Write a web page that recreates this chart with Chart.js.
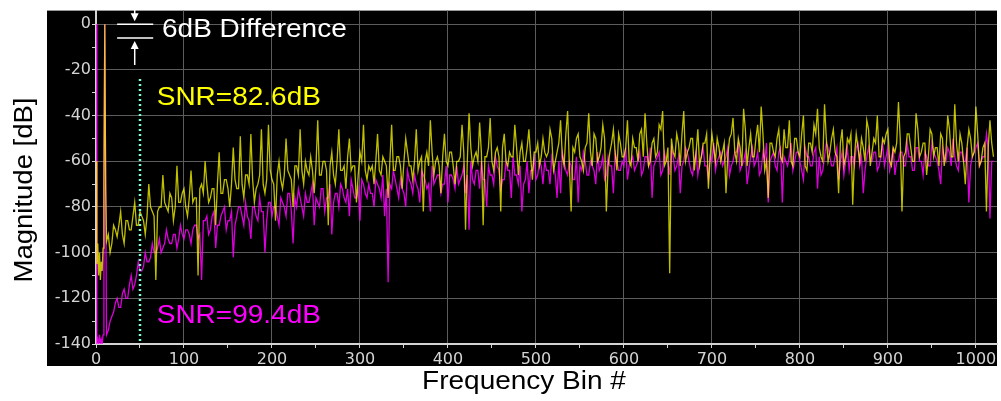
<!DOCTYPE html>
<html>
<head>
<meta charset="utf-8">
<script src="https://cdn.jsdelivr.net/npm/chart.js@4.4.1/dist/chart.umd.min.js"></script>
<style>
  html, body { margin: 0; padding: 0; background: #fff; }
  #wrap { width: 1001px; height: 401px; }
</style>
</head>
<body>
<div id="wrap"><canvas id="grafica" width="1001" height="401"></canvas></div>
<script>
// bins 0..11 leidos uno a uno (DC + fundamental en el bin 10)
const binsInicio = [0, 1, 2, 3, 4, 5, 6, 7, 8, 9, 10, 11];
const amarilloInicio = [-60, -105, -96, -110, -100, -112, -104, -108, -98, -70, 0, -72];
const magentaInicio = [0, -140, -138, -140, -136, -140, -138, -140, -136, -70, 0, -72];

// desde el bin 12: "picos" en los bins 12,16,20... y "nucleo" en los bins 14,18,22...
const primerBin = 12;
const pasoBin = 4;

const amarilloPicos = [
  -95, -100, -88, -93, -82, -96, -86, -90, -78, -88, -84, -92, -70, -82, -112, -80, -66, -80, -74, -86, -62, -78, -72, -84, -64,
  -76, -110, -70, -60, -78, -72, -88, -56, -74, -68, -80, -54, -72, -49, -76, -66, -48, -78, -70, -46, -74, -44, -68, -86, -60,
  -72, -50, -66, -80, -62, -46, -70, -64, -58, -74, -42, -66, -60, -88, -56, -70, -46, -64, -72, -50, -62, -78, -56, -44, -68,
  -64, -70, -48, -66, -60, -76, -44, -64, -58, -72, -50, -62, -68, -46, -60, -82, -56, -42, -66, -58, -74, -48, -62, -56, -70,
  -60, -44, -90, -39, -62, -56, -43, -88, -58, -41, -64, -54, -82, -48, -62, -58, -44, -66, -52, -60, -46, -68, -56, -62, -50,
  -58, -46, -64, -56, -42, -62, -38, -82, -56, -48, -60, -54, -39, -62, -50, -58, -44, -82, -56, -46, -64, -52, -58, -42, -62,
  -54, -60, -46, -39, -62, -52, -58, -44, -38, -60, -109, -56, -48, -62, -38, -56, -50, -64, -46, -58, -52, -72, -48, -60, -54,
  -56, -74, -50, -41, -60, -54, -37, -62, -48, -58, -44, -36, -64, -76, -52, -58, -46, -60, -54, -42, -62, -50, -58, -40, -64,
  -52, -44, -37, -58, -35, -60, -50, -56, -74, -46, -58, -52, -79, -48, -60, -54, -42, -62, -50, -40, -58, -52, -46, -62, -56,
  -34, -82, -56, -48, -60, -39, -58, -52, -66, -46, -58, -54, -48, -62, -40, -58, -35, -60, -52, -70, -46, -58, -36, -62, -54,
  -82, -42, -58
];
const amarilloNucleo = [
  -92, -96, -90, -88, -92, -86, -90, -84, -88, -82, -86, -84, -80, -84, -82, -80, -78, -82, -76, -80, -78, -74, -80, -76, -78,
  -76, -72, -74, -70, -76, -72, -70, -74, -68, -72, -70, -68, -72, -70, -66, -70, -68, -72, -66, -70, -68, -64, -70, -66, -68,
  -66, -64, -68, -62, -66, -64, -60, -66, -64, -62, -66, -60, -64, -62, -66, -60, -64, -62, -58, -64, -62, -66, -60, -64, -62,
  -62, -60, -64, -58, -62, -60, -64, -58, -62, -60, -56, -62, -60, -64, -58, -60, -62, -56, -60, -62, -58, -60, -56, -62, -60,
  -58, -56, -60, -54, -58, -60, -56, -58, -54, -60, -56, -58, -54, -60, -56, -58, -54, -56, -60, -54, -58, -56, -52, -58, -56,
  -56, -50, -60, -52, -58, -48, -62, -54, -50, -58, -64, -52, -56, -48, -60, -54, -50, -62, -52, -56, -48, -58, -54, -60, -50,
  -54, -48, -58, -52, -60, -50, -56, -46, -62, -54, -50, -58, -52, -48, -60, -54, -50, -56, -62, -52, -48, -58, -54, -50, -60,
  -52, -58, -48, -56, -50, -62, -46, -54, -58, -50, -56, -48, -60, -52, -56, -50, -58, -46, -54, -60, -50, -56, -48, -62, -52,
  -56, -48, -54, -60, -50, -56, -46, -58, -52, -62, -50, -48, -58, -54, -50, -60, -46, -56, -52, -58, -50, -48, -60, -54, -52,
  -50, -58, -48, -54, -60, -46, -56, -52, -58, -48, -54, -62, -50, -56, -46, -58, -52, -48, -60, -54, -50, -56, -48, -60, -52,
  -54, -52
];

const magentaPicos = [
  -136, -130, -126, -120, -124, -116, -120, -110, -114, -104, -108, -100, -104, -96, -100, -94, -98, -90, -96, -92, -98, -88, -94, -90, -96,
  -88, -94, -112, -86, -92, -84, -98, -88, -82, -90, -86, -102, -84, -80, -88, -84, -94, -80, -86, -82, -100, -78, -84, -80, -88,
  -78, -84, -74, -96, -80, -76, -84, -78, -74, -88, -78, -72, -82, -76, -92, -74, -80, -72, -78, -84, -72, -76, -86, -70, -76,
  -74, -80, -70, -76, -84, -113, -72, -68, -76, -72, -80, -68, -74, -70, -78, -66, -72, -82, -70, -66, -74, -70, -78, -66, -72,
  -70, -66, -74, -90, -68, -64, -72, -68, -80, -66, -70, -62, -72, -68, -64, -76, -66, -70, -82, -68, -74, -64, -68, -60, -70,
  -64, -70, -62, -76, -74, -60, -66, -62, -68, -78, -64, -60, -66, -62, -70, -64, -58, -66, -62, -74, -60, -64, -62, -68, -60,
  -64, -60, -66, -58, -62, -76, -60, -56, -64, -60, -66, -58, -62, -74, -60, -56, -64, -60, -66, -58, -62, -68, -60, -64, -58,
  -62, -58, -66, -60, -56, -64, -60, -70, -58, -62, -56, -64, -60, -78, -58, -62, -56, -78, -60, -58, -64, -56, -60, -68, -58,
  -62, -56, -72, -66, -58, -54, -62, -58, -68, -56, -60, -64, -58, -54, -62, -74, -58, -60, -56, -64, -58, -62, -54, -60, -66,
  -60, -56, -62, -58, -64, -54, -60, -66, -58, -62, -56, -60, -70, -58, -54, -62, -58, -64, -56, -60, -78, -58, -54, -62, -58,
  -48, -85, -60
];
const magentaNucleo = [
  -134, -128, -122, -124, -118, -120, -114, -116, -110, -108, -106, -104, -102, -100, -98, -100, -96, -94, -96, -92, -94, -92, -90, -92, -90,
  -88, -92, -86, -84, -90, -82, -88, -84, -80, -86, -82, -88, -80, -84, -78, -86, -80, -84, -76, -82, -86, -78, -80, -84, -76,
  -80, -74, -82, -76, -72, -80, -74, -78, -70, -76, -80, -72, -76, -70, -78, -74, -70, -76, -72, -68, -76, -72, -68, -74, -70,
  -74, -68, -72, -66, -72, -70, -64, -72, -68, -74, -64, -70, -66, -72, -64, -68, -70, -62, -68, -66, -70, -62, -66, -68, -62,
  -68, -62, -66, -60, -70, -64, -60, -68, -62, -66, -58, -64, -68, -60, -64, -58, -66, -62, -70, -60, -64, -58, -66, -62, -60,
  -64, -58, -66, -60, -56, -64, -60, -68, -58, -62, -56, -66, -60, -64, -56, -62, -68, -58, -62, -56, -64, -60, -54, -62, -58,
  -62, -56, -64, -58, -54, -62, -58, -66, -56, -60, -54, -64, -58, -62, -54, -60, -66, -56, -60, -54, -62, -58, -52, -60, -56,
  -60, -54, -62, -56, -52, -62, -56, -64, -54, -60, -66, -56, -52, -60, -56, -64, -54, -58, -62, -52, -60, -56, -64, -54, -58,
  -62, -54, -58, -64, -52, -58, -62, -54, -60, -66, -54, -58, -62, -52, -58, -64, -54, -60, -56, -62, -52, -58, -64, -54, -60,
  -56, -62, -52, -58, -64, -54, -60, -56, -62, -52, -58, -64, -54, -60, -56, -50, -62, -56, -60, -54, -62, -56, -52, -60, -58,
  -54, -60
];

// marcador punteado en el bin 50
const marcadorBin = 50;
const marcadorDb = [-24, -140];

// anotacion "6dB Difference"
const difNiveles = [0, -6];
const difBins = [24, 65];
const difFlechaBin = 44;

const etiquetas = [
  { texto: "SNR=82.6dB", bin: 69, db: -32.5, color: "#ffff00" },
  { texto: "SNR=99.4dB", bin: 69, db: -128, color: "#ff00ff" },
  { texto: "6dB Difference", bin: 75, db: -2.6, color: "#ffffff" }
];

const ejeX = { titulo: "Frequency Bin #", min: 0, max: 1024, paso: 50, etiquetaCada: 100 };
const ejeY = { titulo: "Magnitude [dB]", min: -140, max: 6, paso: 10, etiquetaCada: 20 };

const fuente = "'Liberation Sans', Arial, sans-serif";
const estirar = 1.12;

function armarPuntos(inicio, picos, nucleo) {
  const pts = binsInicio.map((b, i) => ({ x: b, y: inicio[i] }));
  picos.forEach((v, i) => {
    pts.push({ x: primerBin + i * pasoBin, y: v });
    if (i < nucleo.length) pts.push({ x: primerBin + i * pasoBin + pasoBin / 2, y: nucleo[i] });
  });
  return pts;
}

function textoEstirado(ctx, texto, x, y, rot) {
  ctx.save();
  ctx.translate(x, y);
  ctx.rotate(rot || 0);
  ctx.scale(estirar, 1);
  ctx.fillText(texto, 0, 0);
  ctx.restore();
}

// fondo negro y textos
const fondoYTextos = {
  id: 'fondoYTextos',
  beforeDraw(chart) {
    const { ctx, chartArea } = chart;
    ctx.save();
    ctx.fillStyle = '#000';
    ctx.fillRect(chartArea.left - 49, chartArea.top, chartArea.right - chartArea.left + 49, chartArea.bottom - chartArea.top + 22);
    ctx.restore();
  },
  afterDraw(chart) {
    const { ctx, scales } = chart;
    const sx = scales.x, sy = scales.y;

    // lineas de 6 dB
    ctx.save();
    ctx.strokeStyle = '#fff';
    ctx.fillStyle = '#fff';
    ctx.lineWidth = 1.5;
    difNiveles.forEach(n => {
      ctx.beginPath();
      ctx.moveTo(sx.getPixelForValue(difBins[0]), sy.getPixelForValue(n));
      ctx.lineTo(sx.getPixelForValue(difBins[1]), sy.getPixelForValue(n));
      ctx.stroke();
    });
    const fx = sx.getPixelForValue(difFlechaBin);
    const y0 = sy.getPixelForValue(difNiveles[0]);
    const y6 = sy.getPixelForValue(difNiveles[1]);
    // flecha de arriba
    ctx.beginPath();
    ctx.moveTo(fx, 0);
    ctx.lineTo(fx, y0 - 8);
    ctx.stroke();
    ctx.beginPath();
    ctx.moveTo(fx - 4, y0 - 11);
    ctx.lineTo(fx + 4, y0 - 11);
    ctx.lineTo(fx, y0 - 3);
    ctx.closePath();
    ctx.fill();
    // flecha de abajo
    ctx.beginPath();
    ctx.moveTo(fx, y6 + 8);
    ctx.lineTo(fx, y6 + 27);
    ctx.stroke();
    ctx.beginPath();
    ctx.moveTo(fx - 4, y6 + 11);
    ctx.lineTo(fx + 4, y6 + 11);
    ctx.lineTo(fx, y6 + 3);
    ctx.closePath();
    ctx.fill();

    ctx.font = '25px ' + fuente;
    ctx.textBaseline = 'middle';
    ctx.textAlign = 'left';
    etiquetas.forEach(e => {
      ctx.fillStyle = e.color;
      textoEstirado(ctx, e.texto, sx.getPixelForValue(e.bin), sy.getPixelForValue(e.db));
    });

    // titulos de los ejes
    ctx.fillStyle = '#000';
    ctx.textAlign = 'center';
    textoEstirado(ctx, ejeX.titulo, 524, 382);
    ctx.save();
    ctx.translate(25, 190);
    ctx.rotate(-Math.PI / 2);
    ctx.scale(1.1, 1);
    ctx.fillText(ejeY.titulo, 0, 0);
    ctx.restore();
    ctx.restore();
  }
};

const colorGrilla = '#5c5c5c';
const colorEje = '#d4d4d4';

new Chart(document.getElementById('grafica'), {
  type: 'line',
  data: {
    datasets: [
      {
        label: 'marcador',
        data: marcadorDb.map(v => ({ x: marcadorBin, y: v })),
        borderColor: '#7fffd4',
        borderWidth: 2.5,
        borderDash: [2, 3],
        pointRadius: 0
      },
      {
        label: 'SNR=82.6dB',
        data: armarPuntos(amarilloInicio, amarilloPicos, amarilloNucleo),
        borderColor: 'rgba(255,255,0,0.75)',
        borderWidth: 1.3,
        pointRadius: 0,
        tension: 0
      },
      {
        label: 'SNR=99.4dB',
        data: armarPuntos(magentaInicio, magentaPicos, magentaNucleo),
        borderColor: 'rgba(255,0,255,0.85)',
        borderWidth: 1.3,
        pointRadius: 0,
        tension: 0
      }
    ]
  },
  options: {
    responsive: false,
    animation: false,
    layout: { padding: { top: 6, right: 4, left: 0, bottom: 0 } },
    plugins: {
      legend: { display: false },
      tooltip: { enabled: false }
    },
    scales: {
      x: {
        type: 'linear',
        min: ejeX.min,
        max: ejeX.max,
        afterFit: s => { s.height = 57; },
        border: { display: true, color: colorEje, width: 2 },
        grid: {
          color: c => (c.tick && c.tick.value % ejeX.etiquetaCada === 0) ? colorGrilla : 'rgba(0,0,0,0)',
          tickColor: colorEje,
          tickLength: 4,
          lineWidth: 1
        },
        ticks: {
          stepSize: ejeX.paso,
          includeBounds: false,
          autoSkip: false,
          maxRotation: 0,
          padding: 2,
          color: colorEje,
          font: { family: "'DejaVu Sans'", size: 16 },
          callback: v => v % ejeX.etiquetaCada === 0 ? v : ''
        }
      },
      y: {
        type: 'linear',
        min: ejeY.min,
        max: ejeY.max,
        afterFit: s => { s.width = 96; },
        border: { display: true, color: colorEje, width: 2 },
        grid: {
          color: c => (c.tick && c.tick.value % ejeY.etiquetaCada === 0) ? colorGrilla : 'rgba(0,0,0,0)',
          tickColor: colorEje,
          tickLength: 4,
          lineWidth: 1
        },
        ticks: {
          stepSize: ejeY.paso,
          includeBounds: false,
          autoSkip: false,
          padding: 1,
          color: colorEje,
          font: { family: "'DejaVu Sans'", size: 16 },
          callback: v => v % ejeY.etiquetaCada === 0 ? v : ''
        }
      }
    }
  },
  plugins: [fondoYTextos]
});
</script>
</body>
</html>
